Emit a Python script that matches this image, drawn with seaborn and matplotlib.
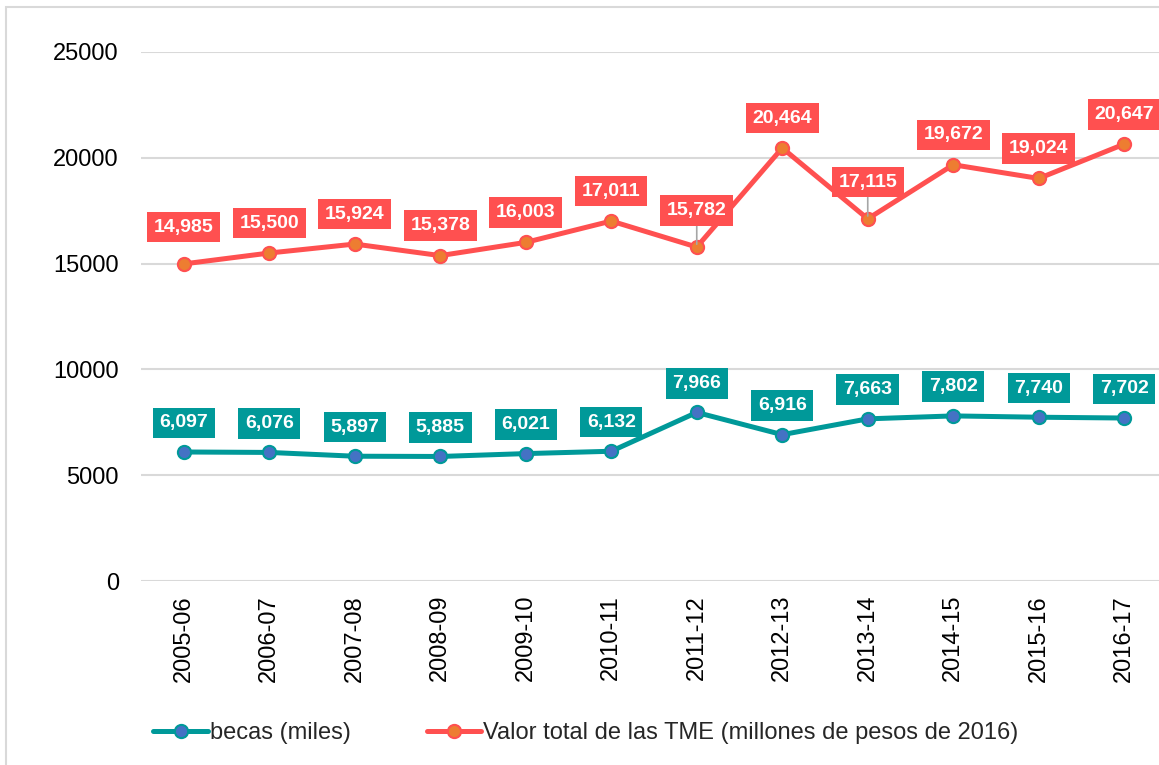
import pandas as pd
import matplotlib.pyplot as plt
import seaborn as sns
from matplotlib.patches import Rectangle

# Data
years = ['2005-06', '2006-07', '2007-08', '2008-09', '2009-10', '2010-11',
         '2011-12', '2012-13', '2013-14', '2014-15', '2015-16', '2016-17']
becas = [6097, 6076, 5897, 5885, 6021, 6132, 7966, 6916, 7663, 7802, 7740, 7702]
valor_tme = [14985, 15500, 15924, 15378, 16003, 17011, 15782, 20464, 17115, 19672, 19024, 20647]

becas_label = 'becas (miles)'
tme_label = 'Valor total de las TME (millones de pesos de 2016)'

df = pd.DataFrame({'year': years, 'becas': becas, 'tme': valor_tme})

sns.set_style('white')
plt.rcParams['font.family'] = ['Liberation Sans', 'DejaVu Sans']

teal = '#009999'
red = '#FF5050'
fig = plt.figure(figsize=(11.59, 7.65), dpi=100)
ax = fig.add_axes([141 / 1159, 1 - 581 / 765, (1167 - 141) / 1159, (581 - 52) / 765])

sns.lineplot(data=df, x='year', y='becas', ax=ax, color=teal, linewidth=3.6,
             marker='o', markersize=9.5, markerfacecolor='#4472C4',
             markeredgecolor=teal, markeredgewidth=1.5, label=becas_label)
sns.lineplot(data=df, x='year', y='tme', ax=ax, color=red, linewidth=3.6,
             marker='o', markersize=9.5, markerfacecolor='#ED7D31',
             markeredgecolor=red, markeredgewidth=1.5, label=tme_label)

# data labels
for i, v in enumerate(becas):
    ax.annotate(f'{v:,}', (i, v), xytext=(0, 21), textcoords='offset points',
                ha='center', va='center', color='white', fontsize=14, fontweight='bold',
                bbox=dict(boxstyle='square,pad=0.35', fc=teal, ec='none'))

for i, v in enumerate(valor_tme):
    off = 26.5 if years[i] in ('2005-06', '2011-12', '2013-14') else 21.5
    arrow = None
    if years[i] in ('2011-12', '2013-14'):
        arrow = dict(arrowstyle='-', color='#A6A6A6', lw=1.2, shrinkA=0, shrinkB=2)
    ax.annotate(f'{v:,}', (i, v), xytext=(0, off), textcoords='offset points',
                ha='center', va='center', color='white', fontsize=14, fontweight='bold',
                bbox=dict(boxstyle='square,pad=0.35', fc=red, ec='none'),
                arrowprops=arrow, zorder=5)

ax.set_xlim(-0.5, 11.5)
ax.set_ylim(0, 25000)
ax.set_yticks(range(0, 25001, 5000))
ax.yaxis.grid(True, color='#D9D9D9', linewidth=1.5)
ax.set_axisbelow(True)
for s in ax.spines.values():
    s.set_visible(False)
ax.set_xlabel('')
ax.set_ylabel('')
ax.tick_params(axis='both', length=0, labelsize=17, colors='black')
ax.tick_params(axis='y', pad=16)
ax.tick_params(axis='x', pad=10)
plt.setp(ax.get_xticklabels(), rotation=90)

ax.legend(loc='center', bbox_to_anchor=(586 / 1159, 1 - 733 / 765), bbox_transform=fig.transFigure,
          ncol=2, frameon=False, fontsize=17, handlelength=2.3, handletextpad=0.1,
          columnspacing=3.2)

fig.patches.append(Rectangle((6 / 1159, -0.05), 1.1, 1.05 - 7 / 765, transform=fig.transFigure,
                             fill=False, edgecolor='#D9D9D9', linewidth=1.5))

fig.savefig('out.png', dpi=100)
